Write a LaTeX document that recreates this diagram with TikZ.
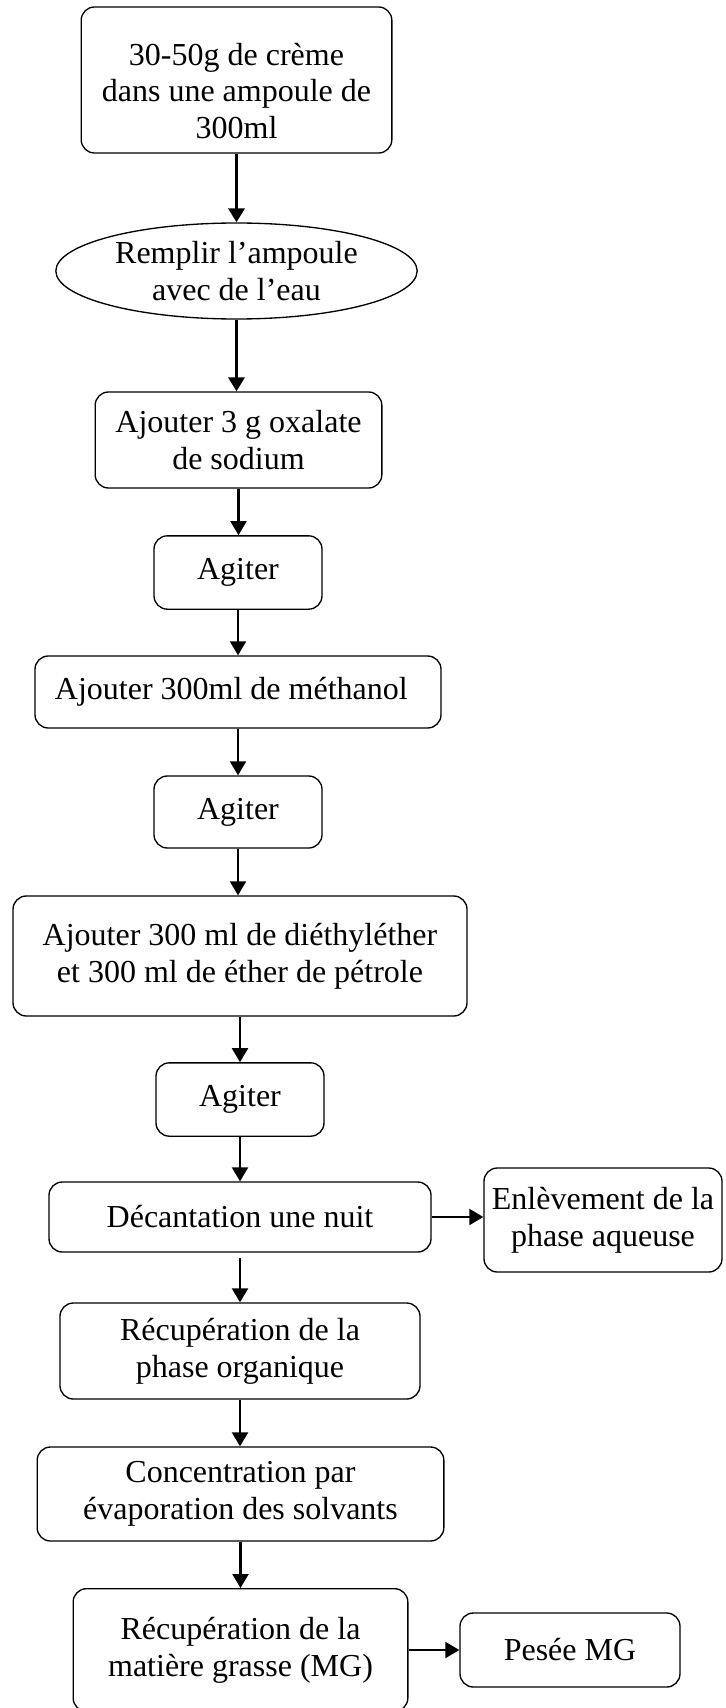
\documentclass[tikz,border=0pt]{standalone}
\usepackage{fontspec}
\setmainfont{Liberation Serif}
\usepackage{tikz}
\usetikzlibrary{shapes.geometric, arrows.meta}

\tikzset{
    etape/.style={draw, rounded corners=10pt, line width=1pt, align=center, inner sep=0pt,
        font=\fontsize{24}{27.5}\selectfont},
    bulle/.style={draw, ellipse, line width=1pt, align=center, inner sep=0pt,
        font=\fontsize{24}{27.5}\selectfont},
    fleche/.style={-{Triangle[length=10.5pt, width=12pt]}, line width=1.6pt},
    grossefleche/.style={fleche, line width=2.6pt}
}

\begin{document}
\begin{tikzpicture}[x=0.75pt, y=-0.75pt] % 1 unit = 1 pixel of the reference
    \useasboundingbox (0,0) rectangle (725,1708);

    % Main column
    \node[etape, minimum width=233pt, minimum height=109.5pt] (creme) at (236.5,80)
        {\rule{0pt}{33pt}30-50g de crème\\dans une ampoule de\\300ml};
    \node[bulle, minimum width=271pt, minimum height=72pt] (eau) at (236.5,271)
        {Remplir l’ampoule\\avec de l’eau};
    \node[etape, minimum width=215pt, minimum height=72pt] (oxalate) at (238.5,440)
        {Ajouter 3 g oxalate\\de sodium};
    \node[etape, minimum width=126pt, minimum height=55pt] (agiterA) at (238,572.5) {Agiter};
    \node[etape, minimum width=304.5pt, minimum height=54pt] (methanol) at (238,692)
        {Ajouter 300ml de méthanol\hspace{10pt}};
    \node[etape, minimum width=126pt, minimum height=54pt] (agiterB) at (238,812) {Agiter};
    \node[etape, minimum width=340.5pt, minimum height=90pt] (ether) at (240,956)
        {Ajouter 300 ml de diéthyléther\\et 300 ml de éther de pétrole};
    \node[etape, minimum width=126pt, minimum height=55pt] (agiterC) at (240,1099.5) {Agiter};
    \node[etape, minimum width=286.5pt, minimum height=52.5pt] (decant) at (240,1217)
        {Décantation une nuit};
    \node[etape, minimum width=270pt, minimum height=72pt] (organique) at (240,1351)
        {Récupération de la\\phase organique};
    \node[etape, minimum width=305pt, minimum height=70.5pt] (concentr) at (240.5,1494)
        {Concentration par\\évaporation des solvants};
    \node[etape, minimum width=251pt, minimum height=92pt] (grasse) at (240.5,1650)
        {Récupération de la\\matière grasse (MG)};

    % Side boxes
    \node[etape, minimum width=178.5pt, minimum height=78pt] (aqueuse) at (603,1220)
        {Enlèvement de la\\phase aqueuse};
    \node[etape, minimum width=165pt, minimum height=55.5pt] (pesee) at (570,1650)
        {Pesée MG};

    % Arrows
    \draw[grossefleche] (creme.south) -- (creme.south |- eau.north);
    \draw[grossefleche] (eau.south) -- (eau.south |- oxalate.north);
    \draw[fleche] (oxalate.south) -- (oxalate.south |- agiterA.north);
    \draw[fleche] (agiterA.south) -- (agiterA.south |- methanol.north);
    \draw[fleche] (methanol.south) -- (methanol.south |- agiterB.north);
    \draw[fleche] (agiterB.south) -- (agiterB.south |- ether.north);
    \draw[fleche] (ether.south) -- (ether.south |- agiterC.north);
    \draw[fleche] (agiterC.south) -- (agiterC.south |- decant.north);
    \draw[fleche, shorten <=4pt] (decant.south) -- (decant.south |- organique.north);
    \draw[fleche] (organique.south) -- (organique.south |- concentr.north);
    \draw[fleche] (concentr.south) -- (concentr.south |- grasse.north);
    \draw[fleche] (decant.east) -- (decant.east -| aqueuse.west);
    \draw[fleche] (grasse.east) -- (grasse.east -| pesee.west);
\end{tikzpicture}
\end{document}
